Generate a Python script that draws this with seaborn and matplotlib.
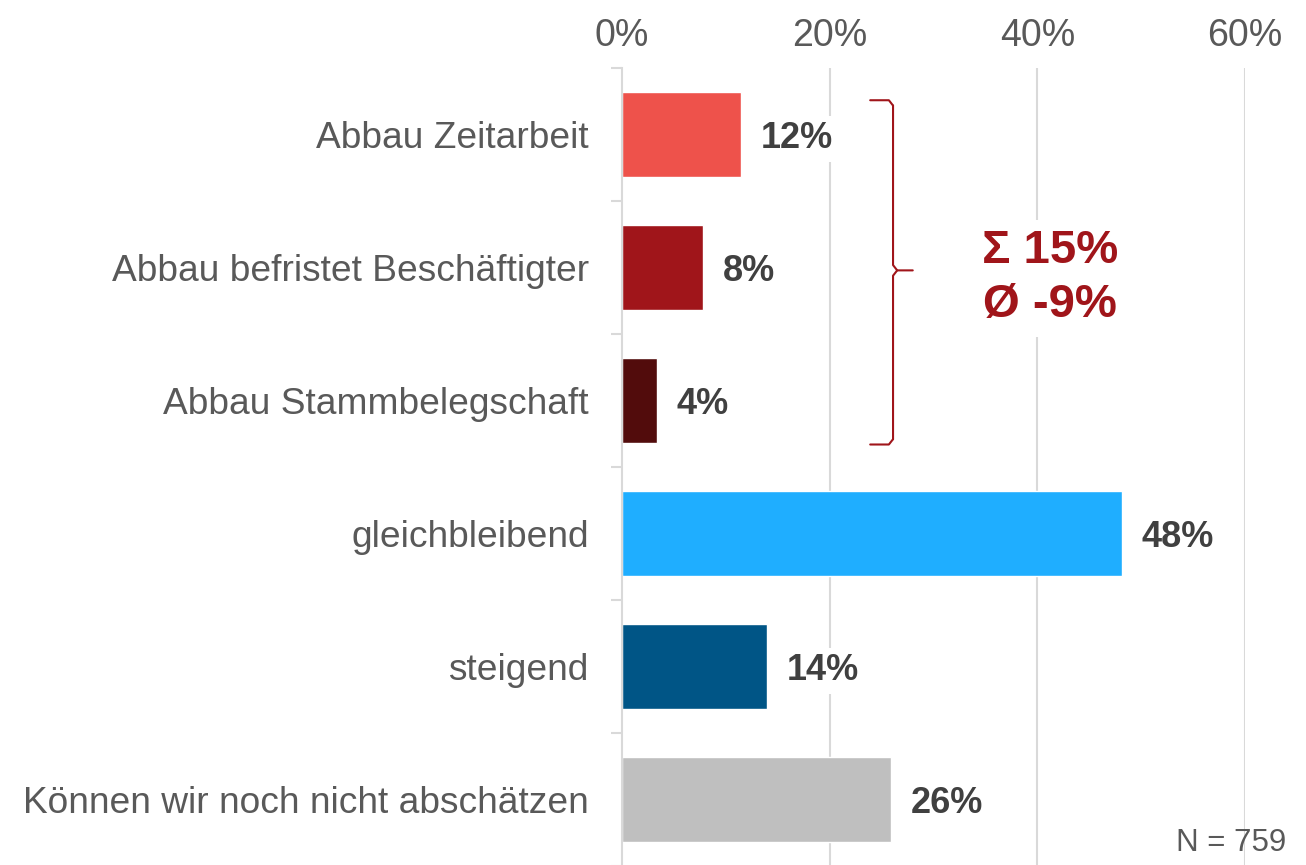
import seaborn as sns
import matplotlib.pyplot as plt
import pandas as pd
import numpy as np

categories = ["Abbau Zeitarbeit", "Abbau befristet Beschäftigter", "Abbau Stammbelegschaft",
              "gleichbleibend", "steigend", "Können wir noch nicht abschätzen"]
shares = [11.5, 7.8, 3.4, 48.2, 14.0, 25.9]
share_labels = ["12%", "8%", "4%", "48%", "14%", "26%"]
palette = ["#EE524B", "#A0151A", "#520C0C", "#1FAEFF", "#005586", "#BFBFBF"]
x_ticks = [0, 20, 40, 60]
summary_text = "Σ 15%\nØ -9%"
n_text = "N = 759"

sns.set_style("white")
plt.rcParams["font.family"] = ["Liberation Sans", "DejaVu Sans"]

df = pd.DataFrame({"Kategorie": categories, "Anteil": shares})

fig = plt.figure(figsize=(13.06, 8.65), dpi=100)
ax = fig.add_axes([0.4763, -0.001, 0.4770, 0.922])

sns.barplot(data=df, y="Kategorie", x="Anteil", hue="Kategorie", palette=palette,
            order=categories, hue_order=categories, width=0.64, legend=False,
            saturation=1, ax=ax)

ax.set_xlim(0, 60)
ax.set_ylim(len(categories) - 0.5, -0.5)
ax.set_xlabel("")
ax.set_ylabel("")

# top axis with percent labels
ax.xaxis.tick_top()
ax.set_xticks(x_ticks)
ax.set_xticklabels([f"{t}%" for t in x_ticks])
ax.tick_params(axis="x", length=0, pad=10, labelsize=27, labelcolor="#595959")
for t in x_ticks[1:]:
    ax.axvline(t, color="#D9D9D9", lw=1.5, zorder=0)

# category labels and boundary ticks
ax.set_yticks(np.arange(len(categories)))
ax.set_yticklabels(categories)
ax.set_yticks(np.arange(len(categories) + 1) - 0.5, minor=True)
ax.tick_params(axis="y", which="major", length=0, pad=24, labelsize=26.7, labelcolor="#595959")
ax.tick_params(axis="y", which="minor", length=8, width=1.5, color="#D9D9D9", left=True)

for side in ["top", "right", "bottom"]:
    ax.spines[side].set_visible(False)
ax.spines["left"].set_color("#D9D9D9")
ax.spines["left"].set_linewidth(1.5)

# value labels
for i, (v, lab) in enumerate(zip(shares, share_labels)):
    ax.annotate(lab, xy=(v, i), xytext=(14, -3), textcoords="offset points",
                ha="left", va="center", fontsize=26, fontweight="bold", color="#404040",
                bbox=dict(boxstyle="square,pad=0.15", fc="white", ec="none"))

# curly bracket around the three "Abbau" rows
xb, xe, xt = 26.1, 23.9, 28.0
y0, y1, ym = -0.26, 2.33, 1.02
r = 0.04
ax.plot([xe, xb - 0.4, xb], [y0, y0, y0 + r], color="#A0151A", lw=1.5, clip_on=False)
ax.plot([xb, xb, xb + 0.4, xt], [y0 + r, ym - r, ym, ym], color="#A0151A", lw=1.5, clip_on=False)
ax.plot([xb, xb, xb + 0.4], [y1 - r, ym + r, ym], color="#A0151A", lw=1.5, clip_on=False)
ax.plot([xe, xb - 0.4, xb], [y1, y1, y1 - r], color="#A0151A", lw=1.5, clip_on=False)

ax.text(41.2, 1.08, summary_text, ha="center", va="center", fontsize=34, fontweight="bold",
        color="#A0151A", linespacing=1.3,
        bbox=dict(boxstyle="square,pad=0.2", fc="white", ec="none"))

fig.text(0.985, 0.025, n_text, ha="right", va="center", fontsize=22.5, color="#595959")

plt.savefig("out.png", dpi=100)
